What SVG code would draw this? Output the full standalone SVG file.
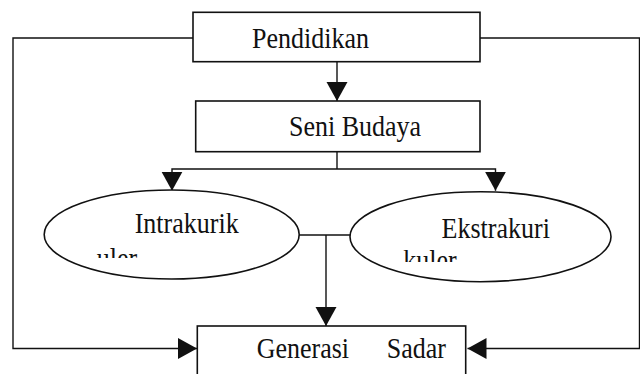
<svg xmlns="http://www.w3.org/2000/svg" width="640" height="374" viewBox="0 0 640 374">
<style>
.box{fill:#fff;stroke:#111;stroke-width:1.6}
.ln{fill:none;stroke:#111;stroke-width:1.4}
text{font-family:'Liberation Serif','Times New Roman',serif;font-size:26px;fill:#111}
</style>
<defs>
<marker id="ah" markerUnits="userSpaceOnUse" markerWidth="20" markerHeight="22" refX="19" refY="10.5" orient="auto" viewBox="0 0 20 21">
<path d="M0,0 L19,10.5 L0,21 Z" fill="#111"/>
</marker>
<clipPath id="c1"><rect x="40" y="200" width="260" height="58"/></clipPath>
<clipPath id="c2"><rect x="350" y="200" width="262" height="62"/></clipPath>
</defs>
<g id="connectors">
<path class="ln" d="M193,38 H13 V348.5 H197" marker-end="url(#ah)"/>
<path class="ln" d="M480,38 H639.5 V348.5 H467.5" marker-end="url(#ah)"/>
<path class="ln" d="M337,61.7 V101" marker-end="url(#ah)"/>
<path class="ln" d="M337,151.7 V169"/>
<path class="ln" d="M337,169 H172 V190.7" marker-end="url(#ah)"/>
<path class="ln" d="M337,169 H495.5 V190.7" marker-end="url(#ah)"/>
<path class="ln" d="M299,235 H350"/>
<path class="ln" d="M326,235 V326" marker-end="url(#ah)"/>
</g>
<g id="pendidikan">
<rect class="box" x="193" y="12.3" width="287" height="49.4"/>
<text transform="translate(252,47.5) scale(1,1.13)">Pendidikan</text>
</g>
<g id="seni-budaya">
<rect class="box" x="195.7" y="101" width="284.3" height="50.7"/>
<text transform="translate(289,136) scale(1,1.13)">Seni Budaya</text>
</g>
<g id="intrakurikuler">
<ellipse class="box" cx="171.7" cy="234.5" rx="127.5" ry="44.5"/>
<text transform="translate(134.7,233) scale(1,1.13)">Intrakurik</text>
<g clip-path="url(#c1)"><text transform="translate(96.7,268) scale(1,1.13)">uler</text></g>
</g>
<g id="ekstrakurikuler">
<ellipse class="box" cx="480.5" cy="236.7" rx="130.5" ry="45"/>
<text transform="translate(441.6,238) scale(1,1.13)">Ekstrakuri</text>
<g clip-path="url(#c2)"><text transform="translate(403.3,270) scale(1,1.13)">kuler</text></g>
</g>
<g id="generasi-sadar">
<rect class="box" x="197.3" y="326" width="268.4" height="60"/>
<text transform="translate(256.7,358) scale(1,1.13)">Generasi</text>
<text transform="translate(386.7,358) scale(1,1.13)">Sadar</text>
</g>
</svg>
